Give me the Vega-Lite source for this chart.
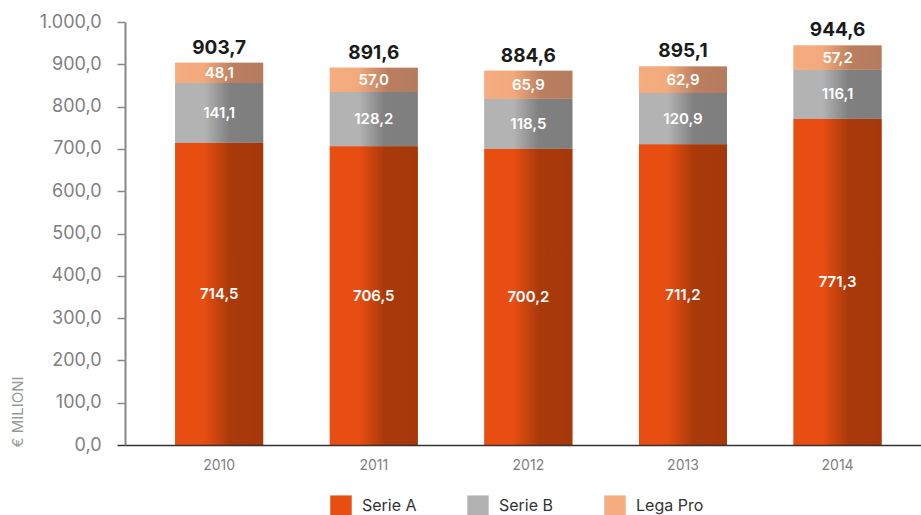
{
  "$schema": "https://vega.github.io/schema/vega-lite/v6.json",
  "autosize": "none",
  "width": 796,
  "height": 423,
  "padding": {"left": 125, "top": 22, "right": 0, "bottom": 70},
  "config": {
    "view": {"stroke": null},
    "font": "Inter",
    "locale": {"number": {"decimal": ",", "thousands": ".", "grouping": [3], "currency": ["€", ""]}}
  },
  "datasets": {
    "segments": [
      {"year": "2010", "series": "Serie A", "order": 1, "value": 714.5},
      {"year": "2010", "series": "Serie B", "order": 2, "value": 141.1},
      {"year": "2010", "series": "Lega Pro", "order": 3, "value": 48.1},
      {"year": "2011", "series": "Serie A", "order": 1, "value": 706.5},
      {"year": "2011", "series": "Serie B", "order": 2, "value": 128.2},
      {"year": "2011", "series": "Lega Pro", "order": 3, "value": 57.0},
      {"year": "2012", "series": "Serie A", "order": 1, "value": 700.2},
      {"year": "2012", "series": "Serie B", "order": 2, "value": 118.5},
      {"year": "2012", "series": "Lega Pro", "order": 3, "value": 65.9},
      {"year": "2013", "series": "Serie A", "order": 1, "value": 711.2},
      {"year": "2013", "series": "Serie B", "order": 2, "value": 120.9},
      {"year": "2013", "series": "Lega Pro", "order": 3, "value": 62.9},
      {"year": "2014", "series": "Serie A", "order": 1, "value": 771.3},
      {"year": "2014", "series": "Serie B", "order": 2, "value": 116.1},
      {"year": "2014", "series": "Lega Pro", "order": 3, "value": 57.2}
    ],
    "totals": [
      {"year": "2010", "total": 903.7},
      {"year": "2011", "total": 891.6},
      {"year": "2012", "total": 884.6},
      {"year": "2013", "total": 895.1},
      {"year": "2014", "total": 944.6}
    ]
  },
  "encoding": {
    "x": {
      "field": "year", "type": "nominal", "title": null,
      "scale": {"paddingInner": 0.431, "paddingOuter": 0.29, "align": 0.56},
      "axis": {
        "labelAngle": 0, "ticks": false, "labelPadding": 13, "labelFontSize": 14,
        "labelColor": "#7f7f7f", "domainColor": "#333333", "domainWidth": 1.5, "zindex": 1
      }
    }
  },
  "layer": [
    {
      "data": {"name": "segments"},
      "transform": [
        {"stack": "value", "groupby": ["year"], "sort": [{"field": "order", "order": "ascending"}], "as": ["v0", "v1"]},
        {"calculate": "(datum.v0 + datum.v1) / 2", "as": "mid"}
      ],
      "layer": [
        {
          "mark": {"type": "bar"},
          "encoding": {
            "y": {
              "field": "v0", "type": "quantitative", "title": "€ MILIONI",
              "scale": {"domain": [0, 1000], "nice": false},
              "axis": {
                "values": [0, 100, 200, 300, 400, 500, 600, 700, 800, 900, 1000],
                "format": ",.1f", "grid": false,
                "labelFontSize": 18, "labelColor": "#7f7f7f", "labelPadding": 16,
                "tickSize": 8, "tickWidth": 1.5,
                "tickColor": {"condition": {"test": "datum.value === 0", "value": "#333333"}, "value": "#888888"},
                "domainColor": "#888888", "domainWidth": 2,
                "titleFontSize": 15, "titleColor": "#999999", "titleFontWeight": "normal",
                "titleAngle": -90, "titleAnchor": "start", "titleAlign": "left",
                "titleBaseline": "middle", "titleX": -108, "titleY": 425
              }
            },
            "y2": {"field": "v1"},
            "color": {
              "field": "series", "type": "nominal",
              "scale": {"domain": ["Serie A", "Serie B", "Lega Pro"], "range": ["#E84E10", "#B2B2B2", "#F5AD80"]},
              "legend": {
                "title": null, "orient": "none", "legendX": 205, "legendY": 473,
                "direction": "horizontal", "columns": 3, "symbolType": "square", "symbolSize": 460,
                "symbolStrokeWidth": 0, "labelFontSize": 16, "labelColor": "#333333",
                "labelOffset": 10, "columnPadding": 50
              }
            }
          }
        },
        {
          "transform": [{"filter": "datum.series === 'Serie A'"}],
          "mark": {"type": "bar", "fill": {"gradient": "linear", "x1": 0, "y1": 0, "x2": 1, "y2": 0,
            "stops": [{"offset": 0, "color": "#E84E12"}, {"offset": 0.33, "color": "#E84E12"}, {"offset": 0.62, "color": "#AA3A0B"}, {"offset": 1, "color": "#A5380A"}]}},
          "encoding": {"y": {"field": "v0", "type": "quantitative"}, "y2": {"field": "v1"}}
        },
        {
          "transform": [{"filter": "datum.series === 'Serie B'"}],
          "mark": {"type": "bar", "fill": {"gradient": "linear", "x1": 0, "y1": 0, "x2": 1, "y2": 0,
            "stops": [{"offset": 0, "color": "#B3B3B3"}, {"offset": 0.33, "color": "#B3B3B3"}, {"offset": 0.62, "color": "#808080"}, {"offset": 1, "color": "#7E7E7E"}]}},
          "encoding": {"y": {"field": "v0", "type": "quantitative"}, "y2": {"field": "v1"}}
        },
        {
          "transform": [{"filter": "datum.series === 'Lega Pro'"}],
          "mark": {"type": "bar", "fill": {"gradient": "linear", "x1": 0, "y1": 0, "x2": 1, "y2": 0,
            "stops": [{"offset": 0, "color": "#F5AC7E"}, {"offset": 0.33, "color": "#F2A97B"}, {"offset": 0.65, "color": "#BA7F60"}, {"offset": 1, "color": "#B57B5E"}]}},
          "encoding": {"y": {"field": "v0", "type": "quantitative"}, "y2": {"field": "v1"}}
        },
        {
          "mark": {"type": "text", "color": "white", "fontSize": 15, "fontWeight": 600, "baseline": "middle"},
          "encoding": {
            "y": {"field": "mid", "type": "quantitative"},
            "text": {"field": "value", "type": "quantitative", "format": ",.1f"}
          }
        }
      ]
    },
    {
      "data": {"name": "totals"},
      "mark": {"type": "text", "color": "#1a1a1a", "fontSize": 19, "fontWeight": "bold", "baseline": "bottom", "dy": -5},
      "encoding": {
        "y": {"field": "total", "type": "quantitative"},
        "text": {"field": "total", "type": "quantitative", "format": ",.1f"}
      }
    }
  ]
}
